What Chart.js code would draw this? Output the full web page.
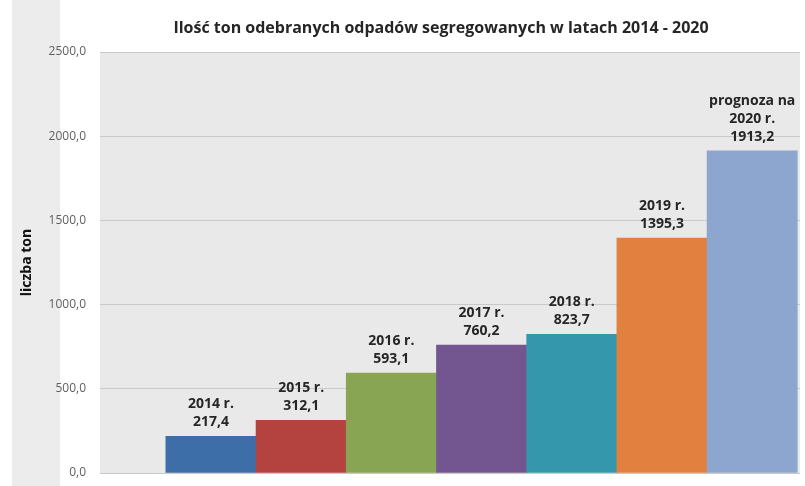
<!DOCTYPE html>
<html>
<head>
<meta charset="utf-8">
<script src="https://cdn.jsdelivr.net/npm/chart.js@4"></script>
<style>
  html, body { margin: 0; padding: 0; background: #fff; overflow: hidden; }
  canvas { display: block; }
</style>
</head>
<body>
<canvas id="chart" width="805" height="486"></canvas>
<script>
const years = ["2014", "2015", "2016", "2017", "2018", "2019", "2020"];
const values = [217.4, 312.1, 593.1, 760.2, 823.7, 1395.3, 1913.2];
const colors = ["#3e6ea8", "#b4433f", "#87a553", "#73558f", "#3597ac", "#e1803f", "#8da6cf"];
const yTicks = [0, 500, 1000, 1500, 2000, 2500];
const chartTitle = "Ilość ton odebranych odpadów segregowanych w latach 2014 - 2020";

const fmt = (v) => v.toFixed(1).replace(".", ",");

const barLabels = years.map((y, i) => {
  const lines = [y + " r.", fmt(values[i])];
  if (y === "2020") lines.unshift("prognoza na");
  return lines;
});

// szare tło po lewej, tło obszaru wykresu i tytuł
const background = {
  id: "background",
  beforeDraw(chart) {
    const { ctx, chartArea: a } = chart;
    ctx.save();
    ctx.fillStyle = "#ececec";
    ctx.fillRect(12, 0, 48, chart.height);
    ctx.fillStyle = "#e9e9e9";
    ctx.fillRect(a.left, a.top, a.right - a.left, a.bottom - a.top);
    ctx.font = "bold 16px 'Open Sans'";
    ctx.fillStyle = "#262626";
    ctx.textAlign = "center";
    ctx.textBaseline = "middle";
    ctx.fillText(chartTitle, (a.left + a.right) / 2 - 9, 28);
    ctx.restore();
  },
};

const valueLabels = {
  id: "valueLabels",
  afterDatasetsDraw(chart) {
    const { ctx } = chart;
    const meta = chart.getDatasetMeta(0);
    ctx.save();
    ctx.font = "bold 14px 'Open Sans'";
    ctx.fillStyle = "#262626";
    ctx.textAlign = "center";
    ctx.textBaseline = "alphabetic";
    meta.data.forEach((bar, i) => {
      const lines = barLabels[i];
      lines.forEach((t, j) => {
        ctx.fillText(t, bar.x, bar.y - 10 - (lines.length - 1 - j) * 18);
      });
    });
    ctx.restore();
  },
};

new Chart(document.getElementById("chart"), {
  type: "bar",
  data: {
    datasets: [
      {
        data: values.map((v, i) => ({ x: i, y: v })),
        backgroundColor: colors,
        borderWidth: 0,
        barThickness: "flex",
        barPercentage: 1,
        categoryPercentage: 1,
      },
    ],
  },
  options: {
    responsive: false,
    animation: false,
    layout: { padding: { left: 0, right: 5, top: 52, bottom: 13 } },
    scales: {
      x: {
        type: "linear",
        min: -1.23,
        max: 6.53,
        offset: false,
        display: false,
      },
      y: {
        min: 0,
        max: 2500,
        afterBuildTicks: (scale) => {
          scale.ticks = yTicks.map((v) => ({ value: v }));
        },
        afterFit: (scale) => {
          scale.width = 100;
          scale.paddingTop = 0;
          scale.paddingBottom = 0;
        },
        border: { display: false },
        grid: { color: "#c9c9c9", drawTicks: false },
        ticks: {
          padding: 14,
          color: "#606060",
          font: { family: "'Open Sans'", size: 12 },
          callback: (v) => fmt(v),
        },
        title: {
          display: true,
          text: "liczba ton",
          color: "#111",
          font: { family: "'Open Sans'", size: 14, weight: "bold" },
          padding: { top: 19, bottom: 0 },
        },
      },
    },
    plugins: {
      legend: { display: false },
      tooltip: { enabled: false },
      title: { display: false },
    },
  },
  plugins: [background, valueLabels],
});
</script>
</body>
</html>
